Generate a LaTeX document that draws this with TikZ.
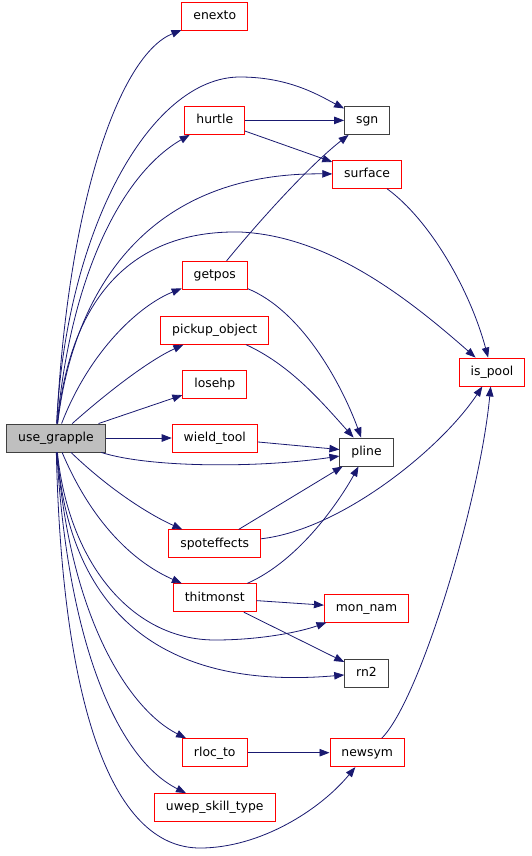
\documentclass[tikz,border=0pt]{standalone}
\usepackage{fontspec}
\setmainfont{DejaVu Sans}
\usetikzlibrary{arrows.meta, positioning}

\definecolor{edgeblue}{RGB}{25,25,112}
\definecolor{rootgray}{RGB}{191,191,191}

\begin{document}
\begin{tikzpicture}[
      x=1pt, y=-1pt,
      node distance=25pt and 66pt,
      fn/.style={draw=red, line width=0.9pt, align=center,
                 minimum height=28pt, inner xsep=11.5pt, inner ysep=0pt,
                 text height=9.5pt, text depth=2.8pt,
                 font=\fontsize{12.4pt}{14pt}\selectfont},
      leaf/.style={fn, draw=black!75},
      root/.style={fn, draw=black!75, fill=rootgray},
      call/.style={draw=edgeblue, line width=0.8pt,
                   -{Triangle[length=10pt, width=7.5pt]}}
    ]
    \useasboundingbox (0,0) rectangle (531,856);

    % caller and first column
    \node[root] (grapple) at (56,438) {use\_grapple};
    \node[fn, right=of grapple]          (wield)  {wield\_tool};
    \node[fn, above=of wield]            (losehp) {losehp};
    \node[fn, above=of losehp]           (pickup) {pickup\_object};
    \node[fn, above=26pt of pickup]      (getpos) {getpos};
    \node[fn, above=126pt of getpos]     (hurtle) {hurtle};
    \node[fn, above=75pt of hurtle]      (enexto) {enexto};
    \node[fn, below=77pt of wield]       (spot)   {spoteffects};
    \node[fn, below=of spot]             (thit)   {thitmonst};
    \node[fn, below=126pt of thit]       (rloc)   {rloc\_to};
    \node[fn, below=26pt of rloc]        (uwep)   {uwep\_skill\_type};

    % callees
    \node[leaf, right=99pt of hurtle]    (sgn)     {sgn};
    \node[fn, below=of sgn]              (surface) {surface};
    \node[leaf] (pline)  at (366.5,452)  {pline};
    \node[fn]   (ispool) at (492,372)    {is\_pool};
    \node[fn]   (monnam) at (366.5,608)  {mon\_nam};
    \node[leaf] (rn)     at (366.5,673)  {rn2};
    \node[fn, right=82pt of rloc]        (newsym)  {newsym};

    % calls from use_grapple
    \draw[call] (grapple) .. controls (68,200) and (120,55) .. (enexto);
    \draw[call] (grapple) .. controls (66,230) and (150,77) .. (240,77)
                          .. controls (290,77) and (320,96) .. (sgn);
    \draw[call] (grapple) .. controls (70,280) and (120,175) .. (hurtle);
    \draw[call] (grapple) .. controls (72,300) and (140,172) .. (surface);
    \draw[call] (grapple) .. controls (70,300) and (130,230) .. (240,232)
                          .. controls (330,236) and (410,300) .. (ispool);
    \draw[call] (grapple) .. controls (90,350) and (140,305) .. (getpos);
    \draw[call] (grapple) .. controls (110,390) and (150,360) .. (pickup);
    \draw[call] (grapple) -- (losehp);
    \draw[call] (grapple) -- (wield);
    \draw[call] (grapple) .. controls (150,468) and (260,468) .. (pline);
    \draw[call] (grapple) .. controls (110,490) and (150,515) .. (spot);
    \draw[call] (grapple) .. controls (95,530) and (140,565) .. (thit);
    \draw[call] (grapple) .. controls (68,560) and (130,640) .. (215,640)
                          .. controls (260,640) and (300,632) .. (monnam);
    \draw[call] (grapple) .. controls (70,620) and (170,690) .. (rn);
    \draw[call] (grapple) .. controls (70,620) and (130,710) .. (rloc);
    \draw[call] (grapple) .. controls (68,650) and (120,760) .. (uwep);
    \draw[call] (grapple) .. controls (62,700) and (110,848) .. (200,848)
                          .. controls (260,848) and (320,810) .. (newsym);

    % further calls
    \draw[call] (hurtle) -- (sgn);
    \draw[call] (hurtle) -- (surface);
    \draw[call] (getpos) .. controls (260,220) and (310,165) .. (sgn);
    \draw[call] (getpos) .. controls (300,310) and (340,380) .. (pline);
    \draw[call] (pickup) .. controls (290,365) and (320,400) .. (pline);
    \draw[call] (surface) .. controls (430,220) and (470,290) .. (ispool);
    \draw[call] (wield) -- (pline);
    \draw[call] (spot) -- (pline);
    \draw[call] (spot) .. controls (340,530) and (440,450) .. (ispool);
    \draw[call] (thit) .. controls (300,560) and (340,500) .. (pline);
    \draw[call] (thit) -- (monnam);
    \draw[call] (thit) -- (rn);
    \draw[call] (rloc) -- (newsym);
    \draw[call] (newsym) .. controls (420,700) and (480,500) .. (ispool);
  \end{tikzpicture}
\end{document}
